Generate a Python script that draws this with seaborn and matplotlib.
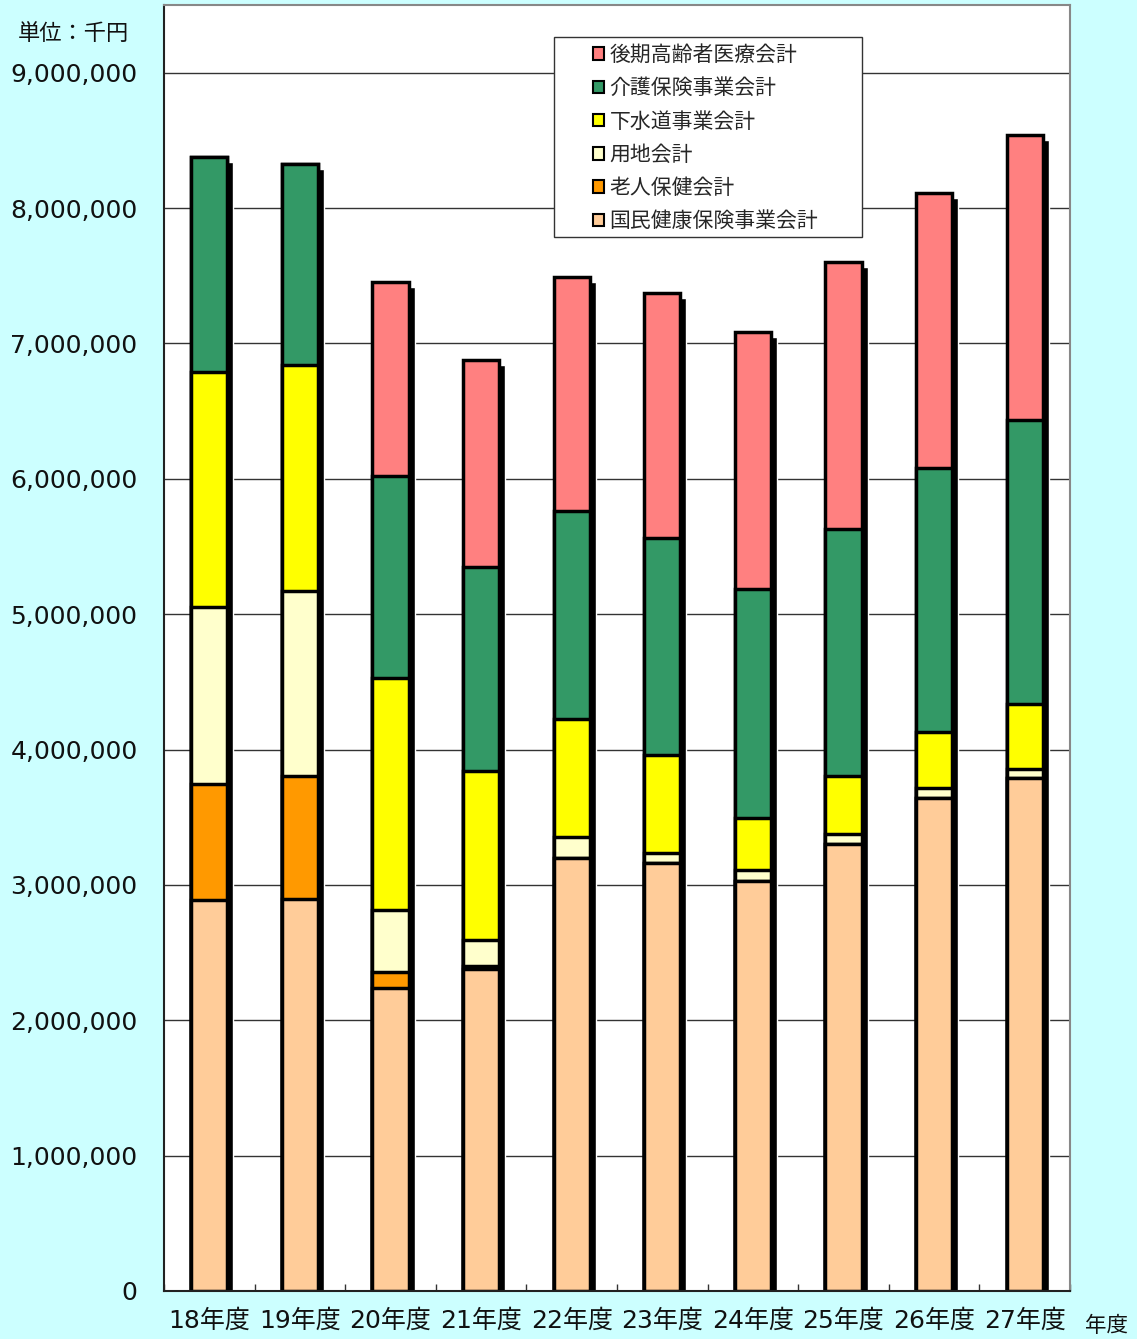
import matplotlib
matplotlib.use("Agg")
import matplotlib.pyplot as plt
import matplotlib.transforms as mtransforms
from matplotlib.patches import Patch, Rectangle
from matplotlib.ticker import FuncFormatter, MultipleLocator
import numpy as np
import pandas as pd
import seaborn as sns

# 年度別 特別会計 決算額（単位：千円）
years = ["18年度", "19年度", "20年度", "21年度", "22年度", "23年度", "24年度", "25年度", "26年度", "27年度"]
kokumin = [2889000, 2897000, 2239000, 2379000, 3200000, 3163000, 3030000, 3303000, 3643000, 3791000]
roujin = [857000, 909000, 118000, 20000, 0, 0, 0, 0, 0, 0]
youchi = [1308000, 1367000, 458000, 195000, 155000, 74000, 81000, 74000, 74000, 66000]
gesuido = [1737000, 1670000, 1715000, 1248000, 872000, 724000, 384000, 429000, 414000, 481000]
kaigo = [1588000, 1485000, 1492000, 1508000, 1537000, 1603000, 1692000, 1825000, 1950000, 2098000]
kouki = [0, 0, 1434000, 1529000, 1729000, 1811000, 1899000, 1973000, 2032000, 2106000]

series_names = ["国民健康保険事業会計", "老人保健会計", "用地会計", "下水道事業会計", "介護保険事業会計", "後期高齢者医療会計"]
series_values = [kokumin, roujin, youchi, gesuido, kaigo, kouki]
series_colors = ["#FFCC99", "#FF9900", "#FFFFCC", "#FFFF00", "#339966", "#FF8080"]

sns.set_theme(style="white")
plt.rcParams["font.family"] = ["Noto Sans CJK JP", "DejaVu Sans"]
num_family = ["DejaVu Sans", "Noto Sans CJK JP"]

W, H = 1137, 1339
fig = plt.figure(figsize=(W / 100, H / 100), dpi=100, facecolor="#CCFFFF")
ax = fig.add_axes([164 / W, 1 - 1291 / H, (1070 - 164) / W, (1291 - 5) / H])
ax.set_facecolor("white")

df = pd.DataFrame({"year": years})
cum = np.zeros(len(years))
cums = []
for vals in series_values:
    cum = cum + np.array(vals, dtype=float)
    cums.append(cum.copy())
df["total"] = cums[-1]

# drop shadow behind each stacked column
shadow_offset = mtransforms.ScaledTranslation(6 / 100, -5 / 100, fig.dpi_scale_trans)
ax.bar(np.arange(len(years)), df["total"], width=0.4, color="black", zorder=1,
       transform=ax.transData + shadow_offset)

# stacked segments: draw cumulative heights from the top layer down
for name, color, c in reversed(list(zip(series_names, series_colors, cums))):
    df["val"] = c
    sns.barplot(data=df, x="year", y="val", order=years, color=color, width=0.4,
                edgecolor="black", linewidth=2.5, saturation=1, errorbar=None,
                ax=ax, zorder=2)

ax.set_ylim(0, 9500000)
ax.set_xlim(-0.5, len(years) - 0.5)
ax.yaxis.set_major_locator(MultipleLocator(1000000))
ax.yaxis.set_major_formatter(FuncFormatter(lambda v, p: f"{int(v):,}"))
ax.grid(axis="y", color="#333333", linewidth=1)
ax.set_axisbelow(True)
ax.set_xlabel("")
ax.set_ylabel("")

ax.tick_params(axis="y", labelsize=18, length=0, pad=19, labelcolor="#111111")
ax.tick_params(axis="x", labelsize=18, length=0, pad=13, labelcolor="#111111")
for lab in ax.get_yticklabels() + ax.get_xticklabels():
    lab.set_family(num_family)
# small inner ticks at category boundaries
ax.set_xticks(np.arange(len(years) + 1) - 0.5, minor=True)
ax.tick_params(axis="x", which="minor", direction="in", length=5, width=1, color="#333333", bottom=True)

for s in ["left", "bottom"]:
    ax.spines[s].set_color("#222222")
    ax.spines[s].set_linewidth(1.5)
for s in ["top", "right"]:
    ax.spines[s].set_color("#888888")
    ax.spines[s].set_linewidth(1.5)

# legend box
box = Rectangle((554 / W, 1 - 237 / H), 308 / W, 200 / H, transform=fig.transFigure,
                facecolor="white", edgecolor="#333333", linewidth=1, zorder=4)
ax.add_patch(box)
handles = [Patch(facecolor=c, edgecolor="black", linewidth=1.5, label=n)
           for n, c in zip(series_names, series_colors)][::-1]
leg = ax.legend(handles=handles, loc="upper left",
                bbox_to_anchor=(593 / W, 1 - 44 / H), bbox_transform=fig.transFigure,
                frameon=False, fontsize=15, handlelength=0.55, handleheight=0.55,
                handletextpad=0.25, labelspacing=0.54, borderpad=0, borderaxespad=0)
leg.set_zorder(5)

fig.text(18 / W, 1 - 33 / H, "単位：千円", fontsize=16, color="#111111", va="center", ha="left")
fig.text(1107 / W, 1 - 1326 / H, "年度", fontsize=15.5, color="#111111", va="center", ha="center")

fig.savefig("out.png", dpi=100, facecolor=fig.get_facecolor())
